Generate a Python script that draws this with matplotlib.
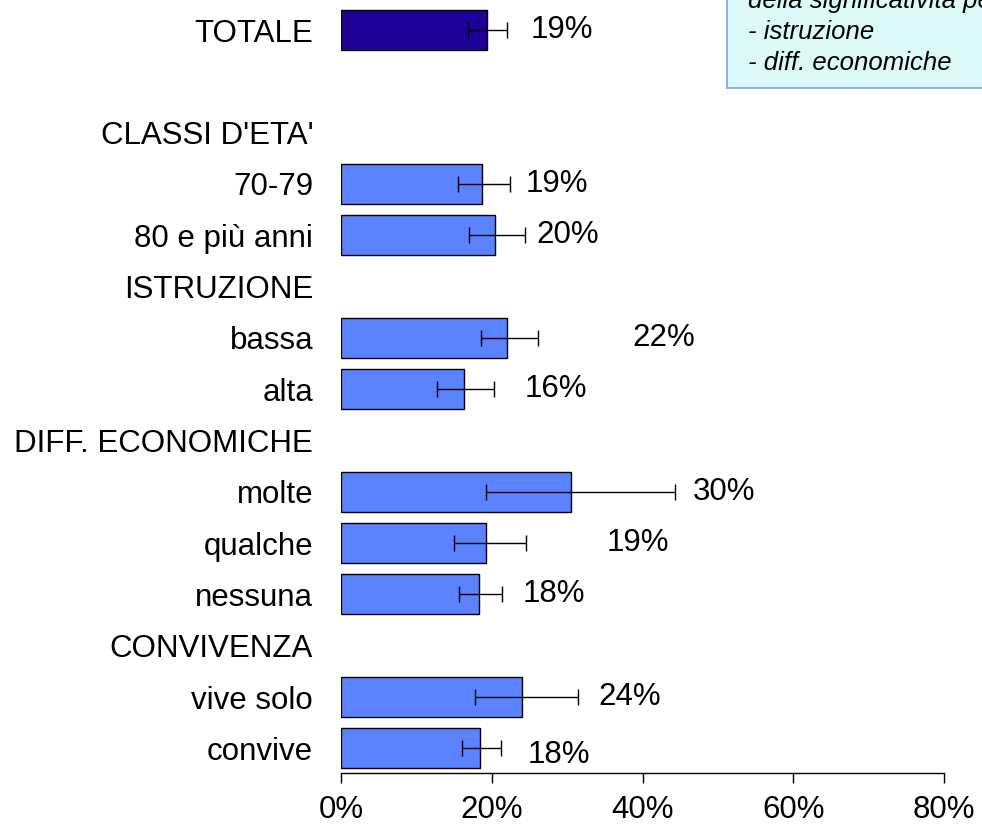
import numpy as np
import matplotlib.pyplot as plt

plt.rcParams['font.family'] = ['Liberation Sans', 'DejaVu Sans']

# rows top to bottom (None = empty / header row without bar)
labels = ["TOTALE", "", "CLASSI D'ETA'", "70-79", "80 e più anni", "ISTRUZIONE",
          "bassa", "alta", "DIFF. ECONOMICHE", "molte", "qualche", "nessuna",
          "CONVIVENZA", "vive solo", "convive"]
values = [19.4, None, None, 18.7, 20.4, None, 22.0, 16.3, None, 30.5, 19.2, 18.3,
          None, 24.0, 18.4]
err_lo = [16.8, None, None, 15.5, 17.0, None, 18.6, 12.7, None, 19.3, 15.0, 15.6,
          None, 17.8, 16.0]
err_hi = [22.0, None, None, 22.4, 24.4, None, 26.1, 20.3, None, 44.3, 24.5, 21.4,
          None, 31.4, 21.2]
value_text = ["19%", "", "", "19%", "20%", "", "22%", "16%", "", "30%", "19%", "18%",
              "", "24%", "18%"]
label_x = [25.1, None, None, 24.5, 25.9, None, 38.7, 24.3, None, 46.7, 35.3, 24.1,
           None, 34.1, 24.7]

fs = 22.5

fig = plt.figure(figsize=(9.82, 8.26), dpi=100)
ax = fig.add_axes([341 / 982, 1 - 773 / 826, (944 - 341) / 982, (773 - 4.4) / 826])

for i, v in enumerate(values):
    if v is None:
        continue
    color = '#1F0099' if i == 0 else '#5B82FF'
    ax.barh(i, v, height=0.78, color=color, edgecolor='black', linewidth=1.0)
    ax.errorbar(v, i, xerr=[[v - err_lo[i]], [err_hi[i] - v]], fmt='none',
                ecolor='black', elinewidth=1.0, capsize=6, capthick=1.0)
    ax.text(label_x[i], i + (0.12 if i == 14 else 0), value_text[i],
            fontsize=fs, va='center', ha='left')

ax.set_xlim(0, 80)
ax.set_ylim(14.48, -0.5)
ax.set_xticks([0, 20, 40, 60, 80])
ax.set_xticklabels(['0%', '20%', '40%', '60%', '80%'], fontsize=fs)
ax.set_yticks(range(len(labels)))
ax.set_yticklabels(labels, fontsize=fs)
ax.tick_params(axis='y', length=0, pad=20)
ax.tick_params(axis='x', direction='out', length=7.5, width=1.0, pad=8)
for s in ['left', 'right', 'top']:
    ax.spines[s].set_visible(False)
ax.spines['bottom'].set_linewidth(1.0)

# note box, partly outside the figure (as in the original slide)
fig.patches.append(plt.Rectangle((727 / 982, 1 - 88 / 826), 0.4, 0.2,
                                 transform=fig.transFigure, facecolor='#DDF8F9',
                                 edgecolor='#7FA8D8', linewidth=1.2, zorder=0))
note_lines = ["della significatività per:", "- istruzione", "- diff. economiche"]
for k, line in enumerate(note_lines):
    fig.text(748 / 982, 1 - (1 + 31 * k) / 826, line, fontsize=18.5, style='italic',
             va='center', ha='left')

fig.savefig('out.png', dpi=100)
